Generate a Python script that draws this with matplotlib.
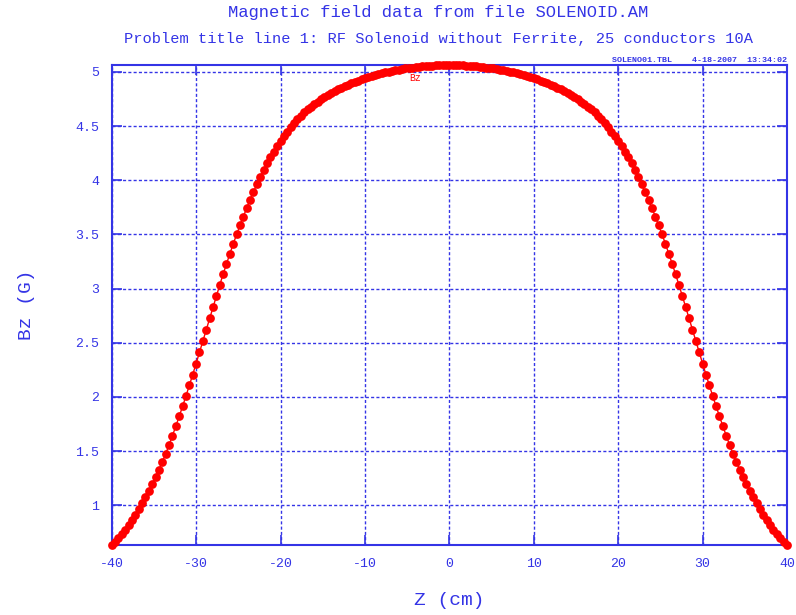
import matplotlib
matplotlib.use("Agg")
import matplotlib.pyplot as plt

# Z positions (cm) and Bz values (G)
z_cm = [
    -40.0, -39.6, -39.2, -38.8, -38.4, -38.0, -37.6, -37.2, -36.8, -36.4,
    -36.0, -35.6, -35.2, -34.8, -34.4, -34.0, -33.6, -33.2, -32.8, -32.4,
    -32.0, -31.6, -31.2, -30.8, -30.4, -30.0, -29.6, -29.2, -28.8, -28.4,
    -28.0, -27.6, -27.2, -26.8, -26.4, -26.0, -25.6, -25.2, -24.8, -24.4,
    -24.0, -23.6, -23.2, -22.8, -22.4, -22.0, -21.6, -21.2, -20.8, -20.4,
    -20.0, -19.6, -19.2, -18.8, -18.4, -18.0, -17.6, -17.2, -16.8, -16.4,
    -16.0, -15.6, -15.2, -14.8, -14.4, -14.0, -13.6, -13.2, -12.8, -12.4,
    -12.0, -11.6, -11.2, -10.8, -10.4, -10.0, -9.6, -9.2, -8.8, -8.4,
    -8.0, -7.6, -7.2, -6.8, -6.4, -6.0, -5.6, -5.2, -4.8, -4.4,
    -4.0, -3.6, -3.2, -2.8, -2.4, -2.0, -1.6, -1.2, -0.8, -0.4,
    0.0, 0.4, 0.8, 1.2, 1.6, 2.0, 2.4, 2.8, 3.2, 3.6,
    4.0, 4.4, 4.8, 5.2, 5.6, 6.0, 6.4, 6.8, 7.2, 7.6,
    8.0, 8.4, 8.8, 9.2, 9.6, 10.0, 10.4, 10.8, 11.2, 11.6,
    12.0, 12.4, 12.8, 13.2, 13.6, 14.0, 14.4, 14.8, 15.2, 15.6,
    16.0, 16.4, 16.8, 17.2, 17.6, 18.0, 18.4, 18.8, 19.2, 19.6,
    20.0, 20.4, 20.8, 21.2, 21.6, 22.0, 22.4, 22.8, 23.2, 23.6,
    24.0, 24.4, 24.8, 25.2, 25.6, 26.0, 26.4, 26.8, 27.2, 27.6,
    28.0, 28.4, 28.8, 29.2, 29.6, 30.0, 30.4, 30.8, 31.2, 31.6,
    32.0, 32.4, 32.8, 33.2, 33.6, 34.0, 34.4, 34.8, 35.2, 35.6,
    36.0, 36.4, 36.8, 37.2, 37.6, 38.0, 38.4, 38.8, 39.2, 39.6,
    40.0,
]
bz_gauss = [
    0.633, 0.665, 0.699, 0.736, 0.775, 0.817, 0.862, 0.910, 0.963, 1.017,
    1.074, 1.134, 1.196, 1.260, 1.327, 1.398, 1.476, 1.556, 1.642, 1.730,
    1.820, 1.913, 2.008, 2.106, 2.206, 2.308, 2.412, 2.516, 2.621, 2.725,
    2.829, 2.932, 3.033, 3.133, 3.229, 3.322, 3.413, 3.500, 3.583, 3.665,
    3.744, 3.820, 3.893, 3.963, 4.030, 4.094, 4.155, 4.212, 4.265, 4.315,
    4.362, 4.407, 4.450, 4.491, 4.529, 4.564, 4.596, 4.626, 4.654, 4.680,
    4.704, 4.727, 4.748, 4.768, 4.787, 4.805, 4.822, 4.839, 4.855, 4.870,
    4.884, 4.897, 4.909, 4.921, 4.933, 4.943, 4.953, 4.963, 4.972, 4.980,
    4.988, 4.995, 5.002, 5.009, 5.015, 5.021, 5.027, 5.032, 5.037, 5.041,
    5.045, 5.048, 5.051, 5.054, 5.056, 5.059, 5.061, 5.063, 5.064, 5.065,
    5.065, 5.065, 5.064, 5.063, 5.061, 5.059, 5.056, 5.054, 5.051, 5.048,
    5.045, 5.041, 5.037, 5.032, 5.027, 5.021, 5.015, 5.009, 5.002, 4.995,
    4.988, 4.980, 4.972, 4.963, 4.953, 4.943, 4.933, 4.921, 4.909, 4.897,
    4.884, 4.870, 4.855, 4.839, 4.822, 4.805, 4.787, 4.768, 4.748, 4.727,
    4.704, 4.680, 4.654, 4.626, 4.596, 4.564, 4.529, 4.491, 4.450, 4.407,
    4.362, 4.315, 4.265, 4.212, 4.155, 4.094, 4.030, 3.963, 3.893, 3.820,
    3.744, 3.665, 3.583, 3.500, 3.413, 3.322, 3.229, 3.133, 3.033, 2.932,
    2.829, 2.725, 2.621, 2.516, 2.412, 2.308, 2.206, 2.106, 2.008, 1.913,
    1.820, 1.730, 1.642, 1.556, 1.476, 1.398, 1.327, 1.260, 1.196, 1.134,
    1.074, 1.017, 0.963, 0.910, 0.862, 0.817, 0.775, 0.736, 0.699, 0.665,
    0.633,
]
x_ticks = [-40, -30, -20, -10, 0, 10, 20, 30, 40]
y_ticks = [1, 1.5, 2, 2.5, 3, 3.5, 4, 4.5, 5]
y_tick_labels = ["1", "1.5", "2", "2.5", "3", "3.5", "4", "4.5", "5"]

title1 = "Magnetic field data from file SOLENOID.AM"
title2 = "Problem title line 1: RF Solenoid without Ferrite, 25 conductors 10A"
stamp = "SOLENO01.TBL    4-18-2007  13:34:02"

blue = "#3434e6"
plt.rcParams["font.family"] = ["Liberation Mono", "DejaVu Sans Mono"]
plt.rcParams["axes.unicode_minus"] = False

fig = plt.figure(figsize=(7.96, 6.15), dpi=100)
ax = fig.add_axes([0.1403, 0.1138, 0.8484, 0.7810])

ax.plot(z_cm, bz_gauss, color="red", linewidth=1.0, marker="o",
        markersize=6.3, markeredgewidth=0, zorder=3, clip_on=False)
ax.text(-4.1, 4.945, "Bz", color="red", fontsize=7, ha="center", va="center")

ax.set_xlim(-40, 40)
ax.set_ylim(min(bz_gauss), 5.067)
ax.set_xticks(x_ticks)
ax.set_yticks(y_ticks)
ax.set_yticklabels(y_tick_labels)

ax.grid(True, color=blue, linewidth=1.0, linestyle=(0, (2.2, 1.6)))
for sp in ax.spines.values():
    sp.set_color(blue)
    sp.set_linewidth(1.5)
ax.tick_params(direction="in", length=7, width=1.2, color=blue,
               labelcolor=blue, labelsize=9.5, top=True, right=True, pad=9)

ax.set_xlabel("Z (cm)", color=blue, fontsize=14)
ax.set_ylabel("Bz (G)", color=blue, fontsize=14)
ax.xaxis.set_label_coords(0.5, -0.1145)
ax.xaxis.label.set_va("center")
ax.yaxis.set_label_coords(-0.126, 0.5)
ax.yaxis.label.set_va("center")

fig.text(0.5503, 0.9719, title1, color=blue, fontsize=12.3, ha="center", va="baseline")
fig.text(0.5503, 0.9296, title2, color=blue, fontsize=11.1, ha="center", va="baseline")
fig.text(0.9887, 0.8967, stamp, color=blue, fontsize=6, fontweight="bold",
         ha="right", va="bottom")

fig.savefig("out.png", dpi=100)
